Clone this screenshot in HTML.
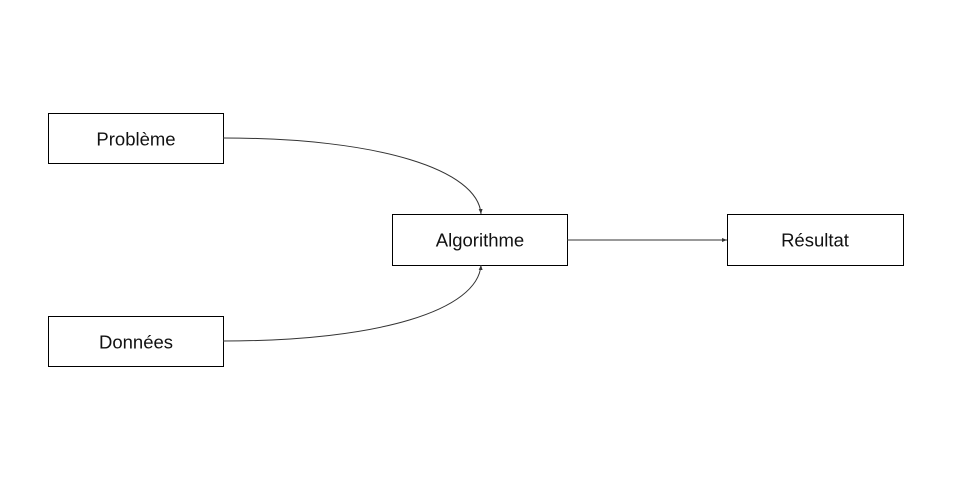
<!DOCTYPE html>
<html><head><meta charset="utf-8"><style>
html,body{margin:0;padding:0;background:#fff;width:960px;height:480px;overflow:hidden}
</style></head><body>
<svg width="960" height="480" xmlns="http://www.w3.org/2000/svg" style="font-family:'Liberation Sans',sans-serif">
<defs><marker id="a" markerWidth="5" markerHeight="4" refX="5" refY="2" orient="auto" markerUnits="userSpaceOnUse"><path d="M0,0 L5,2 L0,4 z" fill="#333"/></marker></defs>
<g fill="#fff" stroke="#000" stroke-width="1">
<rect x="48.5" y="113.5" width="175" height="50"/>
<rect x="48.5" y="316.5" width="175" height="50"/>
<rect x="392.5" y="214.5" width="175" height="51"/>
<rect x="727.5" y="214.5" width="176" height="51"/>
</g>
<g fill="none" stroke="#333" stroke-width="1">
<path d="M223,138 C380,138 478,170 481,214" marker-end="url(#a)"/>
<path d="M223,341 C380,341 478,310 481,265" marker-end="url(#a)"/>
<path d="M567,240 L727,240" marker-end="url(#a)"/>
</g>
<g font-size="18.5" text-anchor="middle" fill="#111">
<text x="136" y="145.5">Problème</text>
<text x="136" y="348.5">Données</text>
<text x="480" y="246.5">Algorithme</text>
<text x="815" y="246.5">Résultat</text>
</g>
</svg>
</body></html>
